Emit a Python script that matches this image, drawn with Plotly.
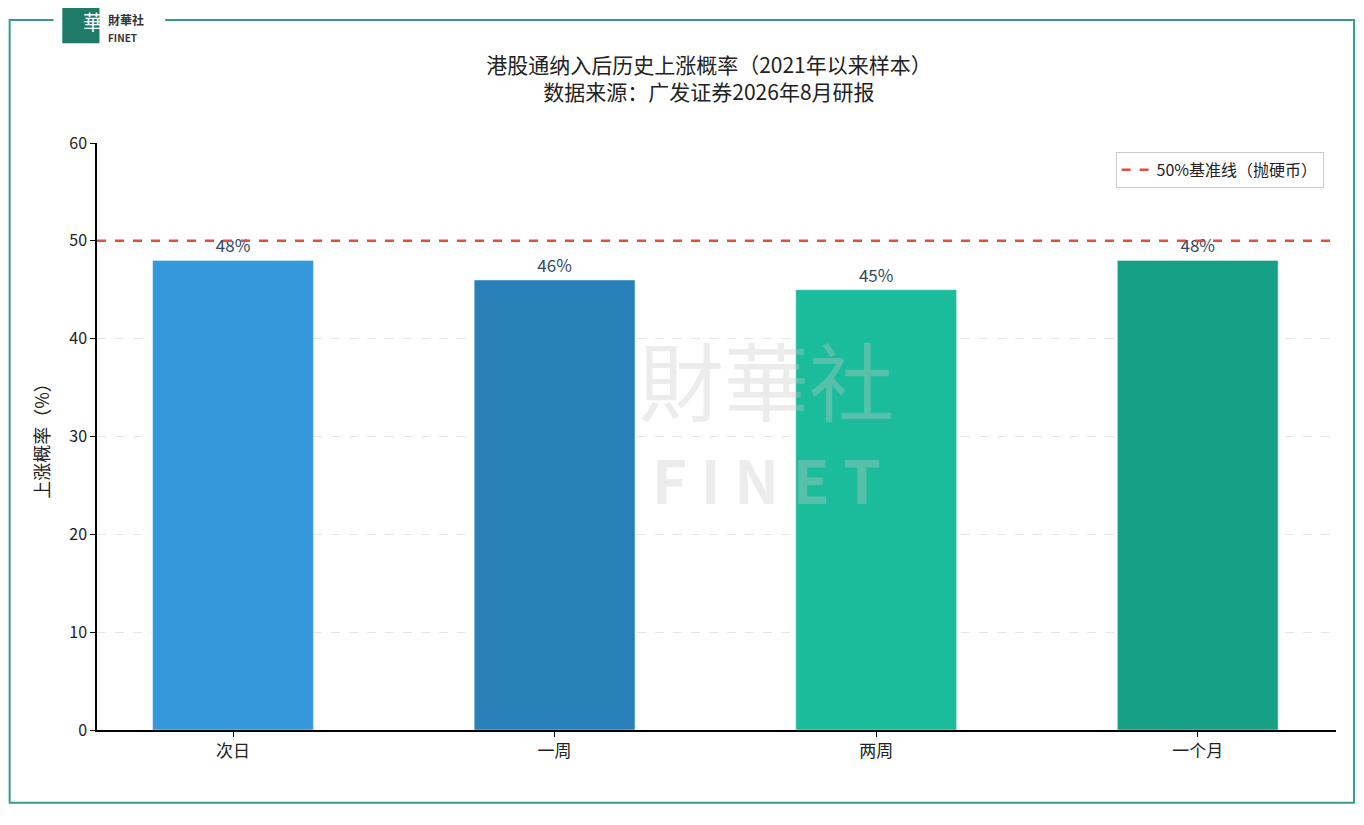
import plotly.graph_objects as go

categories = ["次日", "一周", "两周", "一个月"]
probabilities = [48, 46, 45, 48]
bar_colors = ["#3498db", "#2980b9", "#1abc9c", "#16a085"]
baseline = 50

font = "Noto Sans CJK SC"

fig = go.Figure()
fig.add_trace(go.Bar(
    x=categories, y=probabilities, marker_color=bar_colors, width=0.5,
    text=[f"{v}%" for v in probabilities], textposition="outside",
    textfont=dict(size=17, color="#34495e"), cliponaxis=False, showlegend=False,
))
# legend entry for the baseline
fig.add_trace(go.Scatter(
    x=[None], y=[None], mode="lines",
    line=dict(color="#e74c3c", width=2.5, dash="dash"),
    name="50%基准线（抛硬币）",
))
fig.add_hline(y=baseline, line=dict(color="#e74c3c", width=2.5, dash="dash"), layer="above")

# frame around the card
fig.add_shape(type="rect", xref="paper", yref="paper", x0=-0.0705, x1=1.0145,
              y0=-0.124, y1=1.2095, line=dict(color="#3a9a8c", width=2), layer="below")
# logo
fig.add_shape(type="rect", xref="paper", yref="paper", x0=-0.035, x1=0.055,
              y0=1.18, y1=1.26, fillcolor="white", line_width=0)
fig.add_shape(type="rect", xref="paper", yref="paper", x0=-0.028, x1=0.002,
              y0=1.17, y1=1.245, fillcolor="#1f7a68", line_width=0)
fig.add_annotation(xref="paper", yref="paper", x=-0.013, y=1.207, yanchor="middle", text="華",
                   showarrow=False, font=dict(family=font, size=20, color="white"))
fig.add_annotation(xref="paper", yref="paper", x=0.007, y=1.228, xanchor="left",
                   text="<b>財華社</b>", showarrow=False, font=dict(family=font, size=12, color="#333"))
fig.add_annotation(xref="paper", yref="paper", x=0.007, y=1.196, xanchor="left",
                   text="<b>FINET</b>", showarrow=False, font=dict(family=font, size=10, color="#333"))
# watermark
fig.add_annotation(xref="paper", yref="paper", x=0.54, y=0.6, text="財華社",
                   showarrow=False, font=dict(family=font, size=85, color="rgba(200,200,200,0.35)"))
fig.add_annotation(xref="paper", yref="paper", x=0.54, y=0.43, text="<b>F I N E T</b>",
                   showarrow=False, font=dict(family=font, size=60, color="rgba(200,200,200,0.35)"))

fig.update_layout(
    width=1348, height=809, plot_bgcolor="white", paper_bgcolor="white",
    margin=dict(l=89, r=20, t=135, b=87),
    font=dict(family=font, size=16, color="#222"),
    title=dict(text="港股通纳入后历史上涨概率（2021年以来样本）<br>数据来源：广发证券2026年8月研报",
               x=0.52, xanchor="center", y=0.92, yanchor="top", font=dict(size=21)),
    legend=dict(x=0.99, y=0.985, xanchor="right", yanchor="top", bordercolor="#ccc",
                borderwidth=1, bgcolor="white", font=dict(size=16)),
)
fig.update_xaxes(range=[-0.423, 3.43], showline=True, linecolor="black", linewidth=1.5,
                 ticks="outside", tickcolor="black", tickfont=dict(size=17))
fig.update_yaxes(range=[0, 60], dtick=10, showline=True, linecolor="black", linewidth=1.5,
                 ticks="outside", tickcolor="black", showgrid=True, gridcolor="#e5e5e5",
                 griddash="dash", title=dict(text="上涨概率（%）", font=dict(size=18)),
                 tickfont=dict(size=16), zeroline=False)

fig.write_html("out.html")
